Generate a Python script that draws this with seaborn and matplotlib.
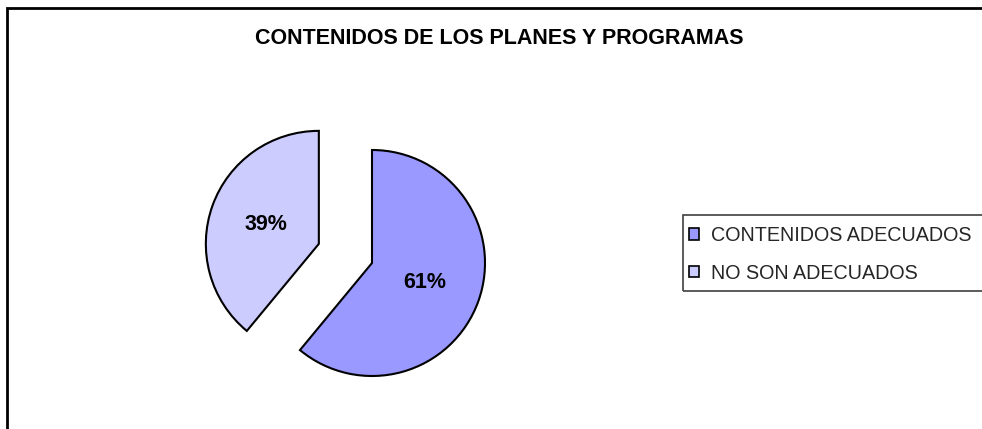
import matplotlib
matplotlib.use("Agg")
import matplotlib.pyplot as plt
from matplotlib.patches import Patch, Rectangle
import seaborn as sns

# Data
categories = ["CONTENIDOS ADECUADOS", "NO SON ADECUADOS"]
values = [61, 39]
colors = ["#9999FF", "#CCCCFF"]
title = "CONTENIDOS DE LOS PLANES Y PROGRAMAS"

sns.set_theme(style="white")
plt.rcParams["font.family"] = ["Liberation Sans", "DejaVu Sans"]

W, H = 982, 429
fig = plt.figure(figsize=(W / 100, H / 100), dpi=100)
fig.patch.set_facecolor("white")

# pie axes: center at (372, 263) px from top, radius 113 px
cx, cy, r = 372, H - 263, 113
xr, yr = 2.0, 1.4
ax = fig.add_axes([(cx - xr * r) / W, (cy - yr * r) / H, 2 * xr * r / W, 2 * yr * r / H])
ax.pie(values, colors=colors, startangle=90, counterclock=False,
       explode=[0, 0.5], radius=1.0,
       autopct=lambda p: f"{p:.0f}%", pctdistance=0.5,
       wedgeprops=dict(edgecolor="black", linewidth=1.5),
       textprops=dict(fontsize=15.5, fontweight="bold", color="black"))
ax.set_xlim(-xr, xr)
ax.set_ylim(-yr, yr)
ax.set_aspect("auto")
ax.axis("off")

# title
fig.text(499 / W, 1 - 38 / H, title, ha="center", va="center",
         fontsize=15.5, fontweight="bold", color="black")

# outer border
fig.add_artist(Rectangle((7 / W, -0.05), 1.1, 1 - 8 / H + 0.05, transform=fig.transFigure,
                         fill=False, edgecolor="black", linewidth=2))

# legend box
fig.add_artist(Rectangle((683 / W, 1 - 291 / H), 1.0, 76 / H, transform=fig.transFigure,
                         fill=False, edgecolor="#404040", linewidth=1.2))
handles = [Patch(facecolor=c, edgecolor="black", linewidth=1.2) for c in colors]
fig.legend(handles, categories, loc="upper left",
           bbox_to_anchor=(685 / W, 1 - 222 / H), frameon=False,
           fontsize=14.2, handlelength=0.5, handleheight=0.5,
           handletextpad=0.6, labelspacing=0.95, borderaxespad=0, borderpad=0.2)

fig.savefig("out.png", dpi=100)
